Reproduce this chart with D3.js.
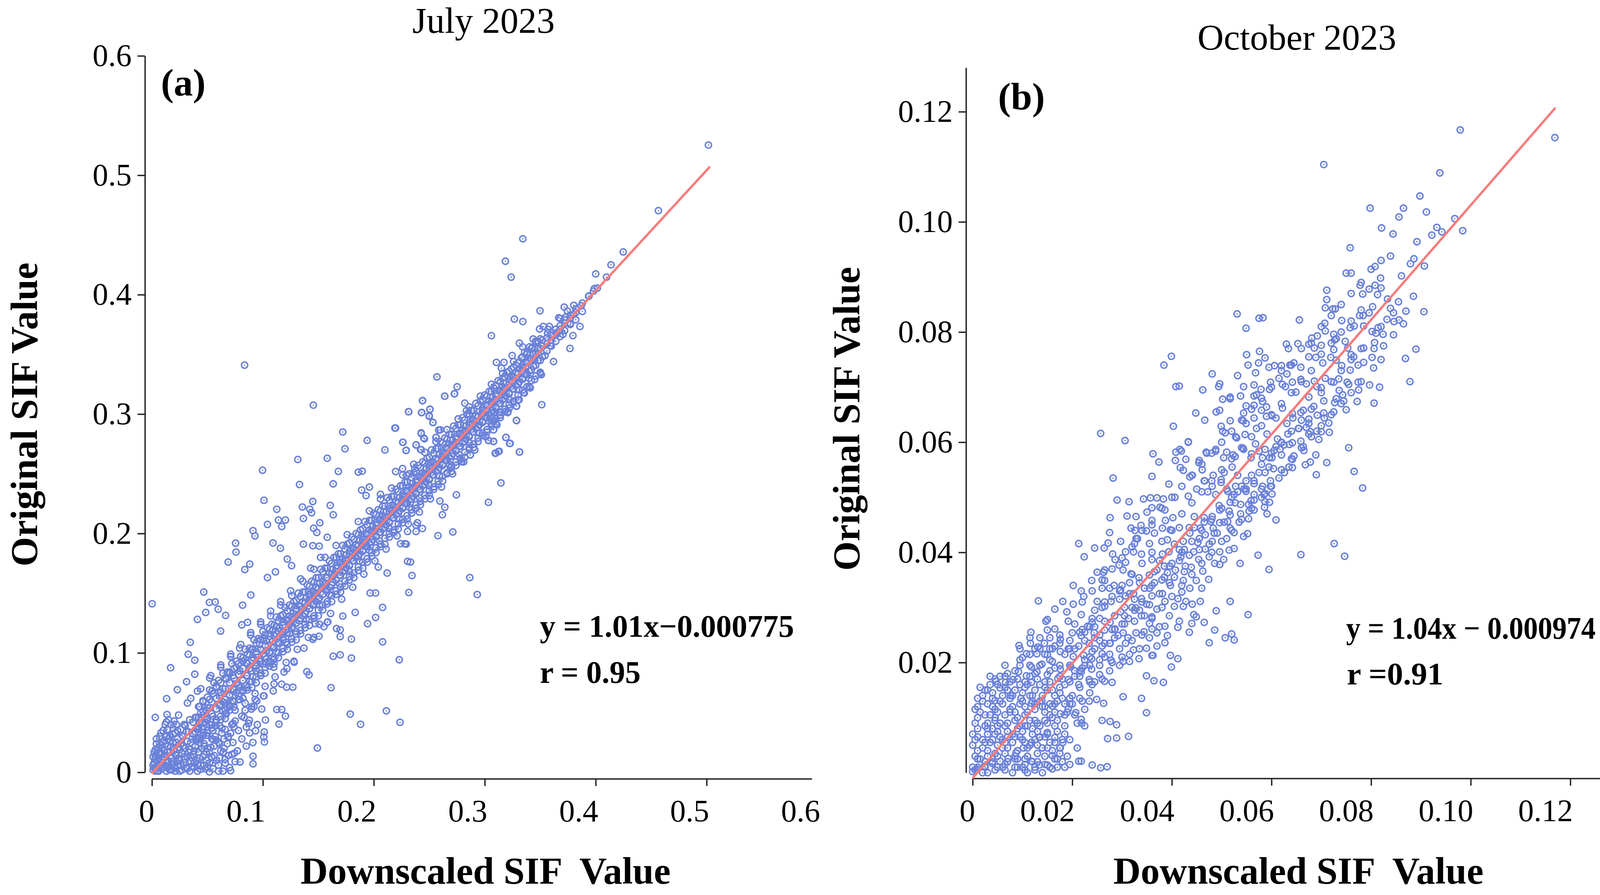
<!DOCTYPE html>
<html>
<head>
<meta charset="utf-8">
<title>Downscaled vs original SIF</title>
<script src="https://cdn.jsdelivr.net/npm/d3@7"></script>
<style>
  html, body { margin: 0; padding: 0; overflow: hidden; background: #fff; }
  svg { display: block; }
  svg text { font-family: "Liberation Serif", "Times New Roman", serif; fill: #000; }
</style>
</head>
<body>
<svg id="chart" width="4157" height="2291"></svg>
<script>
// ---- July 2023 (panel a): [downscaled, original] ----
var julyCorner = [[.001,.002],[.002,.008],[.003,.014],[.004,.004],[.005,.019],[.005,.010],[.006,.001],[.007,.006],[.008,.015],[.008,.023],[.009,.003],[.010,.011],[.011,.018],[.011,.027],[.012,.006],[.013,.001],[.013,.014],[.014,.022],[.015,.009],[.016,.030],[.016,.017],[.017,.003],[.018,.012],[.019,.025],[.019,.007],[.020,.019],[.021,.001],[.021,.033],[.022,.014],[.023,.028],[.023,.005],[.024,.021],[.025,.010],[.026,.036],[.026,.024],[.027,.002],[.027,.016],[.028,.030],[.029,.008],[.030,.020],[.030,.039],[.031,.004],[.032,.026],[.032,.013],[.033,.034],[.034,.001],[.034,.019],[.035,.009],[.036,.028],[.037,.015],[.037,.042],[.038,.004],[.039,.022],[.039,.034],[.040,.010],[.041,.001],[.042,.017],[.043,.029],[.044,.006],[.045,.038],[.046,.013],[.047,.024],[.048,.003],[.049,.017],[.050,.033],[.052,.008],[.053,.021],[.055,.003],[.056,.014],[.058,.027],[.060,.006],[.062,.018],[.064,.001],[.066,.011],[.068,.024],[.070,.004],[.072,.015],[.075,.009],[.004,.024],[.002,.017],[.007,.030],[.010,.035],[.012,.040],[.015,.044],[.006,.012],[.003,.001],[.001,.006],[.009,.016],[.014,.004],[.018,.002],[.022,.009],[.025,.001],[.029,.013],
  [.002,.004],[.003,.011],[.005,.001],[.006,.016],[.007,.009],[.009,.020],[.010,.005],[.011,.013],[.012,.024],[.013,.008],[.014,.017],[.015,.028],[.016,.002],[.017,.021],[.018,.009],[.019,.032],[.020,.004],[.021,.015],[.022,.025],[.023,.035],[.024,.012],[.025,.019],[.026,.006],[.027,.031],[.028,.022],[.029,.040],[.030,.011],[.031,.034],[.032,.003],[.033,.017],[.034,.044],[.035,.025],[.036,.005],[.037,.032],[.038,.018],[.039,.046],[.040,.026],[.041,.007],[.042,.036],[.043,.012],[.044,.050],[.045,.020],[.046,.031],[.047,.006],[.048,.042],[.049,.010],[.010,.025],[.006,.021],[.004,.028],[.008,.033],[.014,.036],[.017,.040],[.020,.043],[.024,.048],[.013,.030],[.016,.026],[.019,.037],[.022,.040],[.001,.013],[.003,.019]];

var julyBand = [[.040,.028],[.040,.046],[.040,.037],[.043,.055],[.043,.025],[.043,.041],[.046,.048],[.046,.036],[.046,.060],[.049,.031],[.049,.052],[.049,.044],[.052,.061],[.052,.040],[.052,.054],[.055,.047],[.055,.066],[.055,.035],[.058,.053],[.058,.072],[.058,.044],[.061,.039],[.061,.064],[.061,.056],[.064,.070],[.064,.051],[.064,.059],[.067,.058],[.067,.078],[.067,.049],[.070,.064],[.070,.055],[.070,.083],[.073,.060],[.073,.081],[.073,.070],[.076,.088],[.076,.067],[.076,.074],[.079,.071],[.079,.061],[.079,.085],[.082,.093],[.082,.077],[.082,.069],[.085,.081],[.085,.092],[.085,.073],[.088,.076],[.088,.098],[.088,.087],[.091,.096],[.091,.080],[.091,.103],[.094,.085],[.094,.101],[.094,.092],[.097,.107],[.097,.093],[.097,.086],[.100,.099],[.100,.091],[.100,.112],[.103,.095],[.103,.110],[.103,.102],[.106,.114],[.106,.100],[.106,.093],[.109,.104],[.109,.119],[.109,.110],[.112,.101],[.112,.116],[.112,.122],[.115,.121],[.115,.108],[.115,.114],[.118,.111],[.118,.126],[.118,.117],[.121,.128],[.121,.119],[.121,.109],[.124,.116],[.124,.131],[.124,.124],[.127,.133],[.127,.122],[.127,.128],[.130,.125],[.130,.137],[.130,.118],[.133,.139],[.133,.127],[.133,.132],[.136,.131],[.136,.143],[.136,.137],[.139,.146],[.139,.135],[.139,.128],[.142,.137],[.142,.149],[.142,.144],[.145,.152],[.145,.140],[.145,.146],[.148,.143],[.148,.155],[.148,.150],[.151,.158],[.151,.146],[.151,.140],[.154,.149],[.154,.160],[.154,.155],[.157,.163],[.157,.152],[.157,.158],[.160,.155],[.160,.167],[.160,.149],[.163,.170],[.163,.159],[.163,.164],[.166,.161],[.166,.173],[.166,.168],[.169,.176],[.169,.165],[.169,.158],[.172,.168],[.172,.179],[.172,.174],[.175,.182],[.175,.171],[.175,.177],[.178,.174],[.178,.185],[.178,.168],[.181,.188],[.181,.177],[.181,.183],[.184,.180],[.184,.191],[.184,.186],[.187,.194],[.187,.183],[.187,.177],[.190,.186],[.190,.197],[.190,.191],[.193,.200],[.193,.189],[.193,.195],[.196,.192],[.196,.203],[.196,.186],[.199,.206],[.199,.195],[.199,.201],[.202,.198],[.202,.209],[.202,.204],[.205,.212],[.205,.201],[.205,.194],[.208,.204],[.208,.215],[.208,.210],[.211,.218],[.211,.207],[.211,.213],[.214,.210],[.214,.221],[.214,.204],[.217,.224],[.217,.213],[.217,.219],[.220,.216],[.220,.227],[.220,.222],[.223,.230],[.223,.219],[.223,.212],[.226,.222],[.226,.233],[.226,.228],[.229,.236],[.229,.225],[.229,.231],[.232,.228],[.232,.239],[.232,.222],[.235,.242],[.235,.231],[.235,.237],[.238,.234],[.238,.245],[.238,.240],[.241,.248],[.241,.237],[.241,.230],[.244,.240],[.244,.251],[.244,.246],[.247,.254],[.247,.243],[.247,.249],[.250,.246],[.250,.257],[.250,.240],[.253,.260],[.253,.249],[.253,.255],[.256,.252],[.256,.263],[.256,.258],[.259,.266],[.259,.255],[.259,.248],[.262,.258],[.262,.269],[.262,.264],[.265,.272],[.265,.261],[.265,.267],[.268,.264],[.268,.275],[.268,.258],[.271,.278],[.271,.267],[.271,.273],[.274,.270],[.274,.281],[.274,.276],[.277,.284],[.277,.273],[.277,.266],[.280,.276],[.280,.287],[.280,.282],[.283,.290],[.283,.279],[.283,.285],[.286,.282],[.286,.293],[.286,.276],[.289,.296],[.289,.285],[.289,.291],[.292,.288],[.292,.299],[.292,.294],[.295,.302],[.295,.291],[.295,.284],[.298,.294],[.298,.305],[.298,.300],[.301,.308],[.301,.297],[.301,.303],[.304,.300],[.304,.311],[.304,.294],[.307,.314],[.307,.303],[.307,.309],[.310,.306],[.310,.317],[.310,.312],[.313,.320],[.313,.309],[.313,.302],[.316,.312],[.316,.323],[.316,.318],[.319,.326],[.319,.315],[.319,.321],[.322,.318],[.322,.329],[.322,.312],[.325,.332],[.325,.321],[.325,.327],[.328,.324],[.328,.335],[.328,.330],[.331,.338],[.331,.327],[.331,.320],[.334,.330],[.334,.341],[.334,.336],[.337,.344],[.337,.333],[.337,.339],[.340,.336],[.340,.347],[.340,.330],[.344,.350],[.344,.340],[.344,.346],[.348,.345],[.348,.355],[.348,.351],[.352,.357],[.352,.348],[.352,.362],[.356,.353],[.356,.364],[.356,.359],[.360,.366],[.360,.357],[.360,.362],[.364,.361],[.364,.371],[.364,.368],[.368,.374],[.368,.365],[.368,.371],[.372,.370],[.372,.379],[.372,.376],[.377,.383],[.377,.375],[.377,.380],[.382,.379],[.382,.388],[.382,.385],[.388,.393],[.388,.386],[.394,.399],[.398,.403]];

var julyBandFill = [[.042,.028],[.042,.037],[.042,.046],[.042,.055],[.046,.031],[.046,.041],[.046,.051],[.046,.059],[.050,.035],[.050,.045],[.050,.054],[.050,.063],[.054,.040],[.054,.049],[.054,.059],[.054,.068],[.058,.044],[.058,.053],[.058,.062],[.058,.071],[.062,.047],[.062,.057],[.062,.067],[.062,.075],[.066,.052],[.066,.061],[.066,.070],[.066,.079],[.070,.056],[.070,.065],[.070,.075],[.070,.084],[.074,.059],[.074,.069],[.074,.079],[.074,.087],[.078,.064],[.078,.073],[.078,.082],[.078,.091],[.082,.068],[.082,.077],[.082,.087],[.082,.096],[.086,.071],[.086,.081],[.086,.091],[.086,.099],[.090,.076],[.090,.085],[.090,.094],[.090,.103],[.094,.080],[.094,.089],[.094,.099],[.094,.108],[.098,.083],[.098,.093],[.098,.103],[.098,.111],[.102,.088],[.102,.097],[.102,.106],[.102,.115],[.106,.092],[.106,.101],[.106,.111],[.106,.120],[.110,.095],[.110,.105],[.110,.115],[.110,.123],[.114,.100],[.114,.109],[.114,.118],[.114,.127],[.118,.104],[.118,.113],[.118,.123],[.118,.132],[.122,.107],[.122,.117],[.122,.127],[.122,.135],[.126,.112],[.126,.121],[.126,.130],[.126,.139],[.130,.116],[.130,.125],[.130,.135],[.130,.144],[.134,.119],[.134,.129],[.134,.139],[.134,.147],[.138,.124],[.138,.133],[.138,.142],[.138,.151],[.142,.128],[.142,.137],[.142,.147],[.142,.156],[.146,.131],[.146,.141],[.146,.151],[.146,.159],[.150,.136],[.150,.145],[.150,.154],[.150,.163],[.154,.140],[.154,.149],[.154,.159],[.154,.168],[.158,.143],[.158,.153],[.158,.163],[.158,.171],[.162,.148],[.162,.157],[.162,.166],[.162,.175],[.166,.152],[.166,.161],[.166,.171],[.166,.180],[.170,.155],[.170,.165],[.170,.175],[.170,.183],[.174,.160],[.174,.169],[.174,.178],[.174,.187],[.178,.164],[.178,.173],[.178,.183],[.178,.192],[.182,.167],[.182,.177],[.182,.187],[.182,.195],[.186,.172],[.186,.181],[.186,.190],[.186,.199],[.190,.176],[.190,.185],[.190,.195],[.190,.204],[.194,.179],[.194,.189],[.194,.199],[.194,.207],[.198,.184],[.198,.193],[.198,.202],[.198,.211],[.202,.188],[.202,.197],[.202,.207],[.202,.216],[.206,.191],[.206,.201],[.206,.211],[.206,.219],[.210,.196],[.210,.205],[.210,.214],[.210,.223],[.214,.200],[.214,.209],[.214,.219],[.214,.228],[.218,.203],[.218,.213],[.218,.223],[.218,.231],[.222,.208],[.222,.217],[.222,.226],[.222,.235],[.226,.212],[.226,.221],[.226,.231],[.226,.240],[.230,.215],[.230,.225],[.230,.235],[.230,.243],[.234,.220],[.234,.229],[.234,.238],[.234,.247],[.238,.224],[.238,.233],[.238,.243],[.238,.252],[.242,.227],[.242,.237],[.242,.247],[.242,.255],[.246,.232],[.246,.241],[.246,.250],[.246,.259],[.250,.236],[.250,.245],[.250,.255],[.250,.264],[.254,.239],[.254,.249],[.254,.259],[.254,.267],[.258,.244],[.258,.253],[.258,.262],[.258,.271],[.262,.248],[.262,.257],[.262,.267],[.262,.276],[.266,.251],[.266,.261],[.266,.271],[.266,.279],[.270,.256],[.270,.265],[.270,.274],[.270,.283],[.274,.260],[.274,.269],[.274,.279],[.274,.288],[.278,.263],[.278,.273],[.278,.283],[.278,.291],[.282,.268],[.282,.277],[.282,.286],[.282,.295],[.286,.272],[.286,.281],[.286,.291],[.286,.300],[.290,.275],[.290,.285],[.290,.295],[.290,.303],[.294,.280],[.294,.289],[.294,.298],[.294,.307],[.298,.284],[.298,.293],[.298,.303],[.298,.312],[.302,.287],[.302,.297],[.302,.307],[.302,.315],[.306,.292],[.306,.301],[.306,.310],[.306,.319],[.310,.296],[.310,.305],[.310,.315],[.310,.324],[.314,.299],[.314,.309],[.314,.319],[.314,.327],[.318,.304],[.318,.313],[.318,.322],[.318,.331],[.322,.308],[.322,.317],[.322,.327],[.322,.336],[.326,.311],[.326,.321],[.326,.331],[.326,.339],[.330,.316],[.330,.325],[.330,.334],[.330,.343],[.334,.320],[.334,.329],[.334,.339],[.334,.348],[.338,.323],[.338,.333],[.338,.343],[.338,.351],[.342,.328],[.342,.337],[.342,.346],[.342,.355],[.346,.332],[.346,.341],[.346,.351],[.346,.360],[.350,.335],[.350,.345],[.350,.355],[.350,.363]];

var julyBandUpper = [[.052,.069],[.056,.075],[.060,.077],[.064,.083],[.068,.084],[.072,.091],[.076,.093],[.080,.097],[.084,.103],[.088,.104],[.092,.111],[.096,.112],[.100,.118],[.104,.121],[.108,.124],[.112,.130],[.116,.131],[.120,.138],[.124,.140],[.128,.143],[.132,.150],[.136,.151],[.140,.157],[.144,.160],[.148,.163],[.152,.170],[.156,.171],[.160,.177],[.164,.180],[.168,.183],[.172,.190],[.176,.191],[.180,.197],[.184,.200],[.188,.203],[.192,.210],[.196,.211],[.200,.217],[.204,.220],[.208,.223],[.212,.230],[.216,.231],[.220,.237],[.224,.240],[.228,.243],[.232,.250],[.236,.251],[.240,.257],[.244,.260],[.248,.263],[.252,.270],[.256,.271],[.260,.277],[.264,.280],[.268,.283],[.272,.290],[.276,.291],[.280,.297],[.284,.300],[.288,.303],[.292,.309],[.296,.311],[.300,.316],[.304,.319],[.308,.322],[.312,.328],[.316,.330],[.320,.335],[.324,.338],[.328,.341],[.333,.347],[.338,.350],[.343,.356],[.348,.361]];

var julyBandLower = [[.054,.037],[.058,.042],[.062,.044],[.066,.049],[.070,.052],[.074,.055],[.078,.061],[.082,.062],[.086,.069],[.090,.071],[.094,.075],[.098,.081],[.102,.083],[.106,.089],[.110,.091],[.114,.096],[.118,.101],[.122,.103],[.126,.109],[.130,.111],[.134,.116],[.138,.121],[.142,.123],[.146,.129],[.150,.131],[.154,.136],[.158,.141],[.162,.143],[.166,.149],[.170,.151],[.174,.156],[.178,.161],[.182,.163],[.186,.169],[.190,.171],[.194,.176],[.198,.181],[.202,.184],[.206,.189],[.210,.191],[.214,.197],[.218,.201],[.222,.204],[.226,.209],[.230,.212],[.234,.217],[.238,.221],[.242,.224],[.246,.229],[.250,.232],[.254,.237],[.258,.241],[.262,.244],[.266,.250],[.270,.252],[.274,.257],[.278,.262],[.282,.264],[.286,.270],[.290,.272],[.294,.277],[.298,.282],[.302,.285],[.306,.290],[.310,.292],[.314,.297],[.318,.302],[.322,.305],[.326,.310],[.330,.312],[.335,.318],[.340,.323],[.345,.329],[.350,.334],
  [.045,.030],[.050,.020],[.054,.028],[.057,.039],[.060,.025],[.063,.033],[.066,.045],[.069,.030],[.072,.040],[.075,.052],[.078,.035],[.081,.047],[.084,.058],[.087,.041],[.090,.055],[.093,.066],[.061,.012],[.065,.020],[.069,.014],[.073,.025],[.077,.018],[.081,.028],[.085,.022],[.088,.033],[.091,.025],[.095,.040],[.052,.016],[.058,.010],[.050,.004],[.055,.008],[.060,.001]];

var julySpread = [[.032,.058],[.036,.012],[.041,.068],[.047,.022],[.052,.079],[.057,.030],[.062,.088],[.066,.036],[.071,.097],[.075,.043],[.079,.104],[.084,.052],[.089,.115],[.093,.061],[.098,.124],[.102,.072],[.107,.131],[.111,.080],[.116,.140],[.121,.092],[.126,.148],[.131,.103],[.136,.160],[.141,.113],[.146,.170],[.151,.124],[.156,.180],[.161,.133],[.166,.190],[.171,.145],[.176,.199],[.181,.155],[.186,.210],[.191,.166],[.196,.219],[.201,.177],[.206,.229],[.211,.187],[.216,.238],[.221,.198],[.226,.249],[.231,.208],[.236,.258],[.241,.218],[.246,.268],[.251,.229],[.256,.277],[.261,.239],[.266,.287],[.271,.250],[.276,.296],[.281,.260],[.286,.306],[.291,.270],[.296,.315],[.301,.281],[.306,.325],[.311,.291],[.316,.334],[.321,.302],[.326,.344],[.331,.312],[.336,.352],[.341,.322],[.346,.361],[.351,.333],[.357,.371],[.362,.344],[.368,.380],
  [.035,.062],[.038,.008],[.044,.070],[.047,.015],[.053,.081],[.056,.022],[.062,.090],[.065,.028],[.071,.099],[.074,.038],[.080,.107],[.083,.046],[.089,.117],[.092,.055],[.098,.126],[.101,.064],[.107,.135],[.110,.074],[.116,.143],[.119,.084],[.125,.152],[.128,.093],[.134,.162],[.137,.104],[.143,.171],[.146,.113],[.152,.180],[.155,.122]];

var julyOutliers = [[.1455,.3075],[.172,.285],[.174,.271],[.194,.278],[.1315,.262],[.158,.263],[.0997,.253],[.133,.241],[.1634,.2416],[.168,.252],[.186,.2514],[.1895,.2522],[.189,.2364],[.193,.2318],[.196,.2389],[.206,.2328],[.210,.270],[.219,.2883],[.226,.2764],[.229,.2695],[.2315,.3019],[.244,.3113],[.243,.3012],[.2506,.304],[.25,.2981],[.2533,.2929],[.264,.315],[.2726,.317],[.2427,.2837],[.2456,.2793],[.238,.2741],[.2427,.2702],[.2584,.2866],[.256,.2804],[.282,.3092],[.2834,.3029],[.308,.3012],[.3146,.3012],[.3206,.3012],[.3287,.3067],[.3287,.2946],[.308,.2935],[.308,.2868],[.3033,.2779],[.308,.2772],[.319,.2804],[.3224,.2754],[.3314,.2683],[.310,.2674],[.313,.2689],[.287,.2658],[.2793,.2601],[.3146,.2424],[.3033,.2261],[.2744,.2324],[.2712,.2013],[.2578,.1982],[.2595,.2272],[.264,.222],[.2618,.2157],[.2865,.1631],[.2932,.1489],[.2304,.2017],[.238,.207],[.238,.2017],[.2438,.2042],[.2393,.209],[.2292,.1911],[.2241,.1915],[.2281,.1915],[.2304,.1767],[.233,.1761],[.2344,.1648],[.2315,.1506],[.212,.1669],[.204,.1719],[.2079,.1381],[.2016,.1297],[.1944,.1245],[.1967,.1502],[.2016,.1502],[.1832,.1339],[.172,.1308],[.1798,.1116],[.1697,.1137],[.1697,.1193],[.1585,.126],[.1664,.1204],[.2079,.1093],[.1634,.0972],[.1697,.0984],[.1798,.0957],[.2229,.0943],[.1614,.0709],[.1787,.0488],[.1881,.0402],[.2113,.0515],[.2236,.0419],[.1491,.0204],[.145,.1114],[.1506,.114],[.1473,.1245],[.158,.1256],[.1396,.0843],[.1416,.0816],[.1214,.0713],[.127,.0713],[.1169,.0738],[.1093,.0682],[.1217,.0868],[.1282,.0922],[.1098,.0943],[.1098,.088],[.1125,.0526],[.117,.0526],[.1203,.0471],[.1145,.0404],[.1023,.0438],[.1012,.0338],[.1008,.0296],[.1014,.0254],[.099,.053],[.1005,.064],[.0945,.0598],[.0911,.0135],[.0911,.0071],[.0794,.0087],[.0709,.0014],[.066,.0077],[.0743,.016],[.0896,.053],[.0851,.0379],[.0878,.0436],[.0934,.0348],[.0732,.0409],[.0687,.0296],[.0631,.037],[.0709,.0327],[.0518,.0004],[.044,.0025],[.054,.013],[.0608,.0238],[.0552,.0275],[.0642,.017],
  [.0002,.1412],[.0467,.151],[.0518,.1423],[.057,.1427],[.0597,.1366],[.0664,.1314],[.0485,.1339],[.041,.1281],[.0619,.1183],[.0345,.1089],[.0327,.0989],[.0386,.0939],[.0168,.0876],[.0312,.0759],[.0386,.0822],[.0229,.0692],[.0132,.0617],[.003,.046],[.0136,.0484],[.013,.0421],[.0687,.1761],[.0754,.1919],[.0758,.1844],[.0837,.1698],[.0882,.1744],[.0911,.2024],[.0929,.198],[.0891,.1485],[.0817,.14],[.081,.1235],[.0862,.1256],[.101,.2278],[.1125,.2203],[.1041,.2076],[.1091,.1921],[.1158,.1877],[.114,.2113],[.1203,.2113],[.117,.2059],[.1041,.1631],[.1113,.1679],[.122,.1786],[.1259,.1731],[.1356,.2222],[.1365,.2126],[.1423,.2203],[.1439,.2174],[.145,.2268],[.1607,.2236],[.1634,.2157],[.158,.1969],[.1365,.1911],[.145,.1898],[.1508,.1894],[.1457,.2044],[.1486,.2009],[.1513,.209],[.0835,.341],
  [.5016,.5253],[.4565,.4704],[.4248,.4358],[.4138,.425],[.4,.4174],[.4098,.4147],[.3343,.4468],[.3186,.428],[.3238,.4147],[.3988,.4051],[.4015,.4055],[.3936,.3986],[.3716,.3896],[.3802,.3911],[.3869,.3907],[.3745,.3863],[.3667,.3807],[.373,.3813],[.3802,.3834],[.3772,.376],[.3498,.3865],[.3267,.3796],[.3343,.3775],[.3858,.3734],[.3795,.3657],[.3768,.355],[.306,.3657],[.3494,.3713],[.3528,.3734],[.3582,.3734],[.3566,.3677],[.3645,.3667],[.3705,.3667],[.3588,.3573],[.3543,.349],[.3436,.3629],[.3312,.3594],[.3341,.3563],[.3404,.3563],[.3247,.349],[.3105,.3433],[.3173,.3433],[.315,.3385],[.3357,.3177],[.3285,.3066],[.3285,.2947],[.3514,.3079],[.2569,.3312],[.2751,.3229],[.2728,.3171],[.2638,.315],[.2438,.3112],[.2313,.3021],[.2432,.3014],[.2506,.3041],[.2499,.2987],[.2533,.2931],[.2196,.2883],[.2263,.2764],[.2292,.2697],[.2382,.2743],[.2421,.2703],[.26,.2868],[.2562,.2805],[.2427,.2843],[.245,.28],[.3034,.278],[.3078,.277],[.3078,.2868],[.3083,.2947],[.3191,.2805],[.3229,.2755],[.3312,.2682],[.3094,.2672],[.3123,.2686],[.287,.266],[.279,.2601],[.269,.2551],[.2196,.2519],[.2259,.2544],[.2369,.2544],[.2297,.2488]];

// ---- October 2023 (panel b) ----
var octUpper = [[.0979,.1167],[.1169,.1153],[.0705,.1104],[.0938,.1089],[.0898,.1047],[.0798,.1025],[.0865,.1025],[.0911,.1018],[.0856,.1009],[.0821,.0989],[.0844,.0978],[.0922,.0976],[.0932,.099],[.0942,.0982],[.0968,.1006],[.0984,.0984],[.0758,.0953],[.0839,.0938],[.0892,.0964],[.0879,.0924],[.0886,.0933],[.0907,.092],[.0861,.0902],[.075,.0907],[.076,.0907],[.08,.0914],[.0808,.0919],[.0819,.0898],[.0778,.0885],[.0796,.0878],[.0808,.0885],[.0783,.0869],[.0813,.0868],[.0711,.0876],[.0711,.0859],[.0708,.0844],[.0728,.0842],[.0723,.0842],[.0741,.0821],[.0803,.0846],[.0833,.086],[.0839,.0843],[.0845,.0835],[.0832,.0823],[.0846,.0819],[.0856,.0822],[.087,.0838],[.0906,.0837],[.0531,.0833],[.0575,.0825],[.0583,.0826],[.0549,.0807],[.0656,.0822],[.0777,.083],[.0784,.083],[.0796,.0835],[.0707,.0816],[.0708,.0802],[.0725,.0796],[.073,.0788],[.0758,.0808],[.0766,.0811],[.0785,.0811],[.0814,.0808],[.0824,.0796],[.081,.0798],[.0802,.0801],[.063,.0778],[.0653,.0779],[.0634,.077],[.0681,.0789],[.0692,.0793],[.0675,.0778],[.0686,.0771],[.07,.0776],[.0725,.0768],[.0727,.0786],[.0748,.0783],[.0753,.0771],[.076,.0759],[.0785,.0771],[.0807,.0781],[.0802,.0754],[.0806,.077],[.089,.0769],[.0869,.0752],[.0878,.071],[.0576,.0765],[.055,.0759],[.0587,.0753],[.0574,.0744],[.0553,.074],[.0568,.0726],[.0532,.0721],[.0481,.0724],[.0595,.0736],[.0606,.0739],[.062,.0739],[.0637,.074],[.0645,.0744],[.0659,.0736],[.0675,.0755],[.0689,.0754],[.0703,.0744],[.0719,.0754],[.073,.0749],[.0741,.0739],[.0758,.0731],[.0774,.074],[.0598,.0709],[.0615,.0716],[.0631,.0724],[.0628,.0701],[.0642,.0709],[.0659,.0714],[.067,.0706],[.0686,.0711],[.07,.0699],[.0708,.0716],[.0725,.0709],[.0736,.0694],[.073,.0679],[.0752,.0709],[.0774,.0709],[.0797,.0704],[.0817,.07],[.0772,.0674],[.0806,.0671],[.075,.0659],[.0705,.0653],[.0462,.0695],[.0496,.0706],[.0494,.0701],[.0502,.0678],[.0517,.0679],[.0538,.0684],[.0565,.0704],[.0579,.0696],[.0565,.0684],[.0582,.0674],[.059,.0664],[.0549,.0666],[.0543,.0639],[.0565,.0644],[.059,.0647],[.0609,.0644],[.0631,.0634],[.0642,.0652],[.0659,.0654],[.0675,.0642],[.0692,.0649],[.067,.0627],[.0678,.0619],[.07,.0619],[.0716,.0618],[.0448,.0653],[.0489,.0655],[.0466,.064],[.0403,.0629],[.0408,.0701],[.0399,.0756],[.0384,.074],[.0415,.0702],[.0499,.0629],[.0507,.0617],[.053,.0608],[.0547,.0614],[.0433,.06],[.0568,.0597],[.0587,.0587],[.0609,.0592],[.062,.0599],[.0642,.0599],[.0659,.0602],[.0664,.0592],[.0755,.059],[.0711,.0563],[.0689,.0577],[.0678,.0564],[.0668,.0559],[.069,.0541],[.0766,.0547],[.0783,.0517],[.0408,.0582],[.0419,.0584],[.0428,.0569],[.0417,.0554],[.0436,.0537],[.0455,.0567],[.0469,.0582],[.0488,.0584],[.051,.0582],[.0527,.0574],[.0543,.0589],[.056,.0579],[.0582,.0572],[.0601,.0572],[.062,.0577],[.0642,.0569],[.0642,.0554],[.0626,.0545],[.0604,.0552],[.0587,.0545],[.0461,.055],[.0483,.054],[.0505,.0545],[.0521,.0555],[.0532,.054],[.0549,.053],[.0565,.0525],[.0582,.052],[.0598,.053],[.0499,.0527],[.0466,.053],[.045,.0515],[.0472,.051],[.0488,.0505],[.051,.0515],[.0532,.051],[.0549,.0515],[.0565,.0505],[.0587,.0507],[.0598,.052],[.0433,.0502],[.0406,.05],[.0527,.049],[.0554,.0487],[.0587,.0492]];

var octMiddle = [[.0416,.0587],[.0433,.0601],[.0407,.0567],[.0423,.0549],[.0441,.054],[.0454,.0563],[.047,.058],[.0488,.0587],[.0504,.0572],[.0523,.0577],[.0544,.0587],[.0559,.0572],[.0575,.0584],[.0596,.0572],[.0617,.0587],[.0636,.0596],[.0465,.053],[.0481,.052],[.0499,.0532],[.0512,.0511],[.0528,.052],[.0549,.0511],[.0565,.053],[.058,.0515],[.0517,.0491],[.0538,.0487],[.0559,.0494],[.0496,.0477],[.0517,.0468],[.0481,.0465],[.0586,.0482],[.0601,.0506],[.0544,.0653],[.0565,.0667],[.058,.0658],[.0601,.0648],[.0622,.0662],[.0643,.0644],[.0664,.0658],[.0549,.0634],[.057,.0625],[.0591,.0615],[.0612,.0606],[.0633,.0615],[.0654,.0625],[.0675,.0634],[.0691,.062],[.0706,.0644],[.0727,.0672],[.0743,.0686],[.0675,.0682],[.0691,.0701],[.0649,.0691],[.0622,.0705],[.0596,.0696],[.057,.0686],[.0544,.0701],[.0517,.0682],[.0496,.0658],[.0517,.0639],[.0502,.062],[.0528,.061],[.0286,.0387],[.0307,.0401],[.0328,.0425],[.0349,.0439],[.036,.0458],[.0381,.0444],[.0386,.0477],[.0402,.0463],[.0318,.0444],[.0297,.042],[.0265,.0368],[.0239,.0349],[.0218,.033],[.0202,.034],[.0181,.0311],[.0165,.0297],[.015,.0278],[.0423,.0302],[.0444,.0287],[.0465,.0273],[.0486,.0259],[.0507,.0245],[.0412,.0264],[.0391,.0249],[.037,.023],[.0349,.0226],[.0334,.0207],
  [.0215,.0185],[.0235,.0195],[.0255,.0205],[.0275,.0215],[.0225,.0255],[.0245,.0245],[.0265,.0235],[.0285,.0245],[.0305,.0285],[.0325,.0295],[.0345,.0285],[.0295,.0315],[.0315,.0325],[.0335,.0345],[.0355,.0335],[.0375,.0325],[.0395,.0345],[.0365,.0365],[.0385,.0375],[.0405,.0355],[.0425,.0365],[.0415,.0405],[.0435,.0395],[.0455,.0405],[.0475,.0415],[.0445,.0445],[.0465,.0455],[.0485,.0435],[.0505,.0455],[.0495,.0485],[.0515,.0475],[.0535,.0455],[.0555,.0475],[.0525,.0505],[.0545,.0515],[.0565,.0495],[.0585,.0505],[.0575,.0545],[.0595,.0555],[.0615,.0535],[.0635,.0555],[.0605,.0585],[.0625,.0595],[.0645,.0575],[.0665,.0585],[.0655,.0625],[.0675,.0615],[.0695,.0605],[.0715,.0635],[.0685,.0665],[.0705,.0675],[.0725,.0655],[.0745,.0675],[.0735,.0715],[.0755,.0705],[.0775,.0695],[.0765,.0755],[.0785,.0745],[.0805,.0735],[.0825,.0775],[.0845,.0795],[.0865,.0815],[.0855,.0855],[.0885,.0865],[.0275,.0185],[.0295,.0195],[.0315,.0215],[.0335,.0225],[.0355,.0245],[.0375,.0265],[.0395,.0285],[.0415,.0275],[.0435,.0255],[.0195,.0225],[.0175,.0235],[.0155,.0225],[.0135,.0245],[.0115,.0245],[.0095,.0225]];

var octBand = [[.022,.013],[.022,.019],[.022,.026],[.022,.031],[.024,.016],[.024,.022],[.024,.028],[.024,.033],[.026,.017],[.026,.023],[.026,.030],[.026,.035],[.028,.020],[.028,.026],[.028,.032],[.028,.037],[.030,.021],[.030,.027],[.030,.034],[.030,.039],[.032,.024],[.032,.030],[.032,.036],[.032,.041],[.034,.025],[.034,.031],[.034,.038],[.034,.044],[.036,.028],[.036,.034],[.036,.040],[.036,.045],[.038,.030],[.038,.035],[.038,.042],[.038,.048],[.040,.032],[.040,.038],[.040,.044],[.040,.050],[.042,.034],[.042,.040],[.042,.047],[.042,.052],[.044,.036],[.044,.042],[.044,.049],[.044,.054],[.046,.038],[.046,.044],[.046,.051],[.046,.056],[.048,.040],[.048,.046],[.048,.053],[.048,.058],[.050,.042],[.050,.048],[.050,.055],[.050,.060],[.052,.044],[.052,.050],[.052,.057],[.052,.062],[.054,.046],[.054,.052],[.054,.059],[.054,.064],[.056,.048],[.056,.054],[.056,.061],[.056,.066],[.058,.050],[.058,.056],[.058,.063],[.058,.068],[.060,.052],[.060,.058],[.060,.065],[.060,.070],[.062,.055],[.062,.060],[.062,.067],[.062,.073],[.064,.057],[.064,.062],[.064,.069],[.064,.074],[.066,.059],[.066,.064],[.066,.071],[.066,.077],[.068,.061],[.068,.066],[.068,.073],[.068,.078],[.070,.063],[.070,.069],[.070,.076],[.070,.081],[.072,.065],[.072,.071],[.072,.078],[.072,.083],[.074,.067],[.074,.073],[.074,.080],[.074,.085],[.076,.069],[.076,.075],[.076,.082],[.076,.087],[.078,.071],[.078,.077],[.078,.084],[.078,.089],[.082,.075],[.082,.081],[.082,.088],[.082,.093]];

var octLower = [[.0257,.0616],[.0306,.0603],[.0282,.0535],[.0213,.0416],[.0245,.0408],[.0224,.0392],[.0272,.0417],[.0132,.0312],[.029,.0495],[.0314,.0492],[.031,.0466],[.0276,.0463],[.0275,.0436],[.0264,.0408],[.0328,.0465],[.0338,.0449],[.0326,.044],[.0331,.0425],[.0325,.0416],[.035,.0473],[.036,.0481],[.0376,.0482],[.037,.0499],[.0383,.0497],[.0357,.0499],[.0343,.0497],[.0362,.0579],[.0374,.0564],[.036,.0538],[.0394,.0524],[.0387,.0458],[.0397,.0441],[.0365,.0435],[.0355,.0416],[.0391,.0423],[.0281,.0397],[.0294,.0377],[.0307,.0382],[.0323,.0401],[.0339,.0397],[.036,.0387],[.0381,.0397],[.0394,.0401],[.0302,.0368],[.0318,.0361],[.0334,.0354],[.0355,.0359],[.037,.0368],[.0391,.0363],[.025,.0364],[.0263,.0364],[.0265,.0349],[.026,.0335],[.0284,.034],[.0297,.0332],[.0307,.0321],[.0323,.0325],[.0339,.0316],[.036,.0321],[.0381,.0325],[.0397,.034],[.0202,.0306],[.0223,.032],[.025,.0311],[.0265,.0302],[.0278,.0311],[.0297,.0292],[.0313,.028],[.0328,.0299],[.0349,.0306],[.037,.0297],[.0386,.0311],[.036,.0283],[.0339,.0285],[.0355,.0271],[.0189,.0292],[.0192,.0275],[.0218,.0287],[.024,.0273],[.0255,.028],[.0276,.0273],[.0286,.0261],[.0265,.0259],[.0244,.0254],[.0231,.0266],[.0302,.0254],[.0312,.0245],[.0328,.0254],[.0344,.0256],[.036,.0261],[.037,.0254],[.0386,.0266],[.0147,.0275],[.0117,.0255],[.015,.0259],[.0165,.0261],[.0176,.0242],[.02,.0254],[.0218,.0249],[.0213,.023],[.0234,.0235],[.0255,.024],[.0276,.0235],[.0292,.0249],[.0307,.0235],[.0323,.0223],[.0386,.0236],[.0093,.0231],[.0116,.0235],[.0131,.0228],[.0144,.0235],[.016,.0225],[.015,.0214],[.0129,.0216],[.0108,.0216],[.0176,.022],[.0192,.0225],[.0202,.0211],[.0223,.0213],[.0239,.0207],[.026,.0216],[.0278,.0204],[.0302,.0202],[.0315,.0202],[.036,.0213],[.0397,.0213],[.0412,.0207],[.01,.0209],[.0118,.0192],[.0139,.0197],[.016,.0202],[.0176,.0188],[.0197,.0192],[.0218,.0183],[.0239,.0188],[.0255,.0178],[.0265,.0166],[.0234,.0169],[.0213,.016],[.0192,.0169],[.0171,.0171],[.015,.0178],[.0129,.0183],[.0108,.0176],[.0092,.0183],[.0081,.0169],[.0118,.0164],[.028,.0164],[.0302,.0138],[.0339,.0135],[.0349,.0109],[.0349,.0176],[.0364,.0167],[.0383,.0164],[.0362,.0213],[.0399,.0192],[.0249,.0133],[.0263,.0126],[.0234,.013],[.0218,.0097],[.0219,.009],[.0207,.0109],[.0192,.0116],[.0176,.0107],[.016,.0121],[.0139,.0131],[.0118,.0126],[.0097,.0135],[.0076,.014],[.0055,.0154],[.0047,.0166],[.0066,.0164],[.0045,.0131],[.026,.0095],[.0276,.0093],[.0289,.0087],[.0271,.0062],[.0289,.0063],[.0313,.0066],[.0213,.0021],[.0218,.0021],[.024,.0014],[.0257,.0009],[.027,.0011],[.016,.0031],[.015,.0014],[.0134,.0014],[.0118,.0021],[.0105,.0005],[.016,.0007],[.0181,.0055],[.0176,.0045],[.0165,.0064],[.015,.0073],[.0134,.0064],[.0118,.0055],[.0102,.0045],[.0087,.0036],[.0071,.0026],[.0055,.0021],[.0039,.0017],[.0024,.0012],[.0008,.0007],[.0,.0002],
  [.0517,.0311],[.0553,.0287],[.0489,.0294],[.0449,.0283],[.044,.0271],[.0457,.0311],[.0441,.0306],[.052,.0252],[.0525,.0241],[.0475,.0236],[.0726,.0416],[.0659,.0396],[.0747,.0393],[.0595,.0369],[.0573,.0395],[.0537,.038],[.0515,.0404],[.0525,.0407],[.0544,.0429],[.0552,.0434],[.0525,.0436],[.0486,.038],[.0496,.0378],[.0475,.0392],[.0462,.0366],[.0474,.0351],[.0418,.0392],[.0427,.0375],[.0423,.0349],[.042,.0328],[.0412,.0316],[.0405,.0302],[.0407,.0368],[.0444,.0401],[.0454,.0387],[.0439,.0373],[.0452,.0418],[.0467,.0432],[.0483,.0444],[.0496,.0454],[.0512,.0456],[.0538,.047],[.0554,.0461],[.0609,.0459],[.0591,.047],[.0565,.0477],[.0596,.0491],[.0465,.0463],[.0478,.0456],[.0491,.0435],[.051,.0425],[.0517,.0444],[.0481,.042],[.0467,.0406],[.0496,.0401],[.0504,.0387],[.0457,.0444],[.0436,.0435],[.0423,.042],[.0449,.0349],[.046,.0335],[.0436,.0335],[.0428,.0311]];

var octCorner = [[.000,.001],[.002,.000],[.004,.002],[.006,.001],[.008,.000],[.010,.001],[.012,.002],[.014,.000],[.017,.001],[.001,.004],[.003,.003],[.005,.005],[.009,.004],[.011,.003],[.013,.005],[.016,.004],[.019,.003],[.000,.007],[.002,.006],[.004,.008],[.006,.006],[.008,.007],[.010,.006],[.012,.008],[.015,.007],[.018,.006],[.001,.010],[.003,.009],[.005,.011],[.007,.009],[.009,.010],[.011,.011],[.013,.009],[.016,.010],[.002,.013],[.004,.012],[.006,.014],[.008,.012],[.010,.013],[.012,.014],[.014,.012],[.017,.013],[.005,.016],[.007,.015],[.009,.017],[.011,.016],[.013,.017],[.015,.015],[.019,.011],[.021,.009],[.020,.014],[.018,.017],[.003,.015],[.001,.012],[.007,.018],[.0015,.0025],[.0035,.0055],[.0065,.0035],[.0085,.0025],[.0105,.0085],[.0125,.0115],[.0075,.0115],[.0045,.0095],[.0025,.0085],[.0145,.0095],[.0165,.0125],[.0185,.0085],[.0195,.0135],[.0225,.0115],[.0235,.0165],[.0205,.0185],[.0175,.0195],[.0155,.0185],[.0115,.0195],[.0135,.0225],[.0095,.0205],[.0065,.0195],[.0035,.0175],[.0015,.0155],[.0055,.0065],
  [.001,.001],[.003,.000],[.005,.001],[.007,.002],[.009,.001],[.011,.000],[.013,.002],[.0155,.001],[.018,.002],[.0005,.003],[.0025,.002],[.0045,.0035],[.0065,.0005],[.0085,.003],[.0105,.0025],[.0125,.0005],[.0145,.003],[.0175,.0035],[.0195,.0015],
  [.000,.005],[.002,.0045],[.004,.006],[.006,.0045],[.008,.0055],[.0095,.0065],[.0115,.005],[.0135,.0065],[.0155,.0055],[.0175,.0045],[.0195,.006],[.001,.0065],[.003,.007],[.005,.0075],[.007,.0065],[.010,.0075],[.012,.007],[.014,.0045],[.017,.0075],[.021,.0045],
  [.0005,.009],[.0025,.0085],[.0045,.010],[.0065,.0085],[.0085,.0095],[.0105,.0105],[.0125,.0095],[.0145,.011],[.0165,.0085],[.0185,.0105],[.0015,.011],[.0035,.0105],[.0055,.009],[.0075,.011],[.0095,.0085],[.0115,.0095],[.0135,.0085],[.0155,.0105],[.0205,.0105],[.0225,.0085],
  [.001,.0135],[.003,.0125],[.0055,.013],[.0075,.0135],[.0095,.0125],[.0115,.014],[.0135,.013],[.0155,.0125],[.0175,.0145],[.0195,.0125],[.0215,.0135],[.004,.0145],[.0065,.0155],[.0085,.015],[.0105,.0155],[.0125,.015],[.0145,.0155],[.0165,.014],[.0235,.0145],[.0025,.015],
  [.0045,.017],[.0065,.0175],[.0085,.0185],[.0105,.0165],[.0125,.018],[.0145,.0165],[.0165,.019],[.0185,.016],[.0205,.0175],[.0225,.0195],[.0245,.0165],[.0095,.0195],[.0135,.0195],[.0175,.0175],[.0195,.0195],[.0215,.0155],[.0155,.0205],[.0115,.0215],[.0235,.021],[.0255,.0195],
  [.0125,.0225],[.0145,.0215],[.0165,.023],[.0185,.0215],[.0205,.0225],[.0225,.024],[.0245,.0225],[.0265,.021],[.0175,.025],[.0195,.024],[.0215,.0255],[.0235,.0265],[.0255,.025],[.0275,.0235],[.0155,.0245],[.0285,.026],[.0225,.0205],[.0265,.0275],[.0295,.0225],[.0205,.027],
  [.0245,.0295],[.0265,.031],[.0285,.0285],[.0305,.03],[.0325,.0315],[.0295,.033],[.0275,.0335],[.0315,.0345],[.0335,.0295],[.0355,.0305],[.0345,.0335],[.0365,.0345],[.0305,.027],[.0325,.0275],[.0245,.0265],[.0385,.0355],[.0375,.0385],[.0395,.0375],[.0415,.0385],[.0405,.0415],[.0425,.0405],[.0435,.0445],[.0455,.0425],[.0415,.0445],[.0445,.0465],
  [.0005,.0005],[.0025,.001],[.0045,.0005],[.0065,.0015],[.0085,.001],[.0105,.0015],[.0125,.001],[.0145,.0015],[.0165,.0025],[.0185,.001],[.001,.0025],[.003,.004],[.005,.003],[.007,.0045],[.009,.0025],[.011,.0045],[.013,.0035],[.015,.0045],[.017,.0025],[.0005,.006],[.0025,.0055],[.0045,.007],[.0065,.0055],[.0085,.0065],[.0105,.0055],[.0125,.006],[.0145,.0065],[.0165,.0055],[.0185,.007],[.001,.008],[.003,.008],[.005,.0085],[.007,.0075],[.009,.008],[.011,.0085],[.013,.0075],[.015,.009],[.017,.0095],[.0005,.0115],[.0025,.0105],[.0045,.0115],[.0065,.0105],[.0085,.011],[.0105,.012],[.0125,.0125],[.0145,.012],[.0165,.011],[.0185,.0125],[.002,.014],[.004,.0135],[.006,.0125],[.008,.014],[.010,.0145],[.012,.013],[.014,.014],[.016,.015],[.018,.0135],[.020,.0125],[.0035,.016],[.0055,.0175],[.0075,.0165],[.0095,.016],[.0115,.0175],[.0135,.016],[.0155,.0165],[.0175,.0155],[.0195,.0165],[.0215,.0175]];

// regression lines: [slope, intercept, xmax]
var julyFit = [1.01, -0.000775, 0.503];
var octFit = [1.04, -0.000974, 0.117];

var julyTicksX = [0, 0.1, 0.2, 0.3, 0.4, 0.5, 0.6];
var julyLabelsX = ["0", "0.1", "0.2", "0.3", "0.4", "0.5", "0.6"];
var julyTicksY = [0, 0.1, 0.2, 0.3, 0.4, 0.5, 0.6];
var julyLabelsY = ["0", "0.1", "0.2", "0.3", "0.4", "0.5", "0.6"];
var octTicksX = [0, 0.02, 0.04, 0.06, 0.08, 0.10, 0.12];
var octLabelsX = ["0", "0.02", "0.04", "0.06", "0.08", "0.10", "0.12"];
var octTicksY = [0.02, 0.04, 0.06, 0.08, 0.10, 0.12];
var octLabelsY = ["0.02", "0.04", "0.06", "0.08", "0.10", "0.12"];

var pointColor = "#6b82d9";
var lineColor = "#f87c7c";
var svg = d3.select("#chart");
svg.append("rect").attr("width", 4157).attr("height", 2291).attr("fill", "#fff");

// squeeze a text horizontally so it spans the given width
function fitWidth(sel, width) {
    var len = sel.node().getComputedTextLength();
    var x = +sel.attr("x"), y = +sel.attr("y");
    sel.attr("x", 0).attr("y", 0)
        .attr("transform", "translate(" + x + "," + y + ") scale(" + (width / len) + ",1)");
}

function drawPanel(p) {
    var x = d3.scaleLinear().domain(p.xDomain).range(p.xRange);
    var y = d3.scaleLinear().domain(p.yDomain).range(p.yRange);
    var g = svg.append("g");

    // x axis (labels sit just left of their ticks, as in the original)
    var xAxis = g.append("g")
        .attr("transform", "translate(0," + p.xAxisY + ")")
        .call(d3.axisBottom(x).tickValues(p.xTicks)
            .tickFormat(function(d, i) { return p.xLabels[i]; })
            .tickSize(18).tickSizeOuter(0).tickPadding(34));
    xAxis.attr("font-size", 80).attr("font-family", null);
    xAxis.select(".domain").attr("d", "M" + x(p.xDomain[0]) + ",0H" + x(p.xLineEnd));
    xAxis.selectAll(".tick text").attr("text-anchor", "end").attr("dx", 6);
    xAxis.selectAll(".tick").filter(function(d) { return d > p.xLineEnd; }).select("line").remove();

    // y axis
    var yAxis = g.append("g")
        .attr("transform", "translate(" + p.yAxisX + ",0)")
        .call(d3.axisLeft(y).tickValues(p.yTicks)
            .tickFormat(function(d, i) { return p.yLabels[i]; })
            .tickSize(19).tickSizeOuter(0).tickPadding(15));
    yAxis.attr("font-size", 80).attr("font-family", null);

    g.selectAll(".domain, .tick line").attr("stroke", "#222").attr("stroke-width", 3.5);

    // points: open rings with a small centre dot
    var pts = g.append("g");
    pts.selectAll("circle.ring")
        .data(p.points)
        .enter().append("circle")
        .attr("class", "ring")
        .attr("cx", function(d) { return x(d[0]); })
        .attr("cy", function(d) { return y(d[1]); })
        .attr("r", 8)
        .attr("fill", "none")
        .attr("stroke", pointColor)
        .attr("stroke-width", 3.8);
    pts.selectAll("circle.dot")
        .data(p.points)
        .enter().append("circle")
        .attr("class", "dot")
        .attr("cx", function(d) { return x(d[0]); })
        .attr("cy", function(d) { return y(d[1]); })
        .attr("r", 1.9)
        .attr("fill", pointColor);

    // fitted line
    var f = p.fit;
    g.append("line")
        .attr("x1", x(0)).attr("y1", y(f[1]))
        .attr("x2", x(f[2])).attr("y2", y(f[0] * f[2] + f[1]))
        .attr("stroke", lineColor).attr("stroke-width", 6);

    // texts
    g.append("text").attr("x", p.title[1]).attr("y", p.title[2])
        .attr("text-anchor", "middle").attr("font-size", 93).text(p.title[0]);
    g.append("text").attr("x", p.tag[1]).attr("y", p.tag[2])
        .attr("font-size", 98).attr("font-weight", "bold").text(p.tag[0]);
    g.append("text").attr("x", p.xTitle[0]).attr("y", p.xTitle[1])
        .attr("text-anchor", "middle").attr("font-size", 97).attr("font-weight", "bold")
        .style("white-space", "pre").text("Downscaled SIF  Value");
    g.append("text")
        .attr("transform", "translate(" + p.yTitle[0] + "," + p.yTitle[1] + ") rotate(-90)")
        .attr("text-anchor", "middle").attr("font-size", 97).attr("font-weight", "bold")
        .text("Original SIF Value");
    var eq = g.append("text").attr("x", p.eq[1]).attr("y", p.eq[2])
        .attr("font-size", 80).attr("font-weight", "bold").text(p.eq[0]);
    fitWidth(eq, p.eq[3]);
    var rt = g.append("text").attr("x", p.r[1]).attr("y", p.r[2])
        .attr("font-size", 80).attr("font-weight", "bold").text(p.r[0]);
    fitWidth(rt, p.r[3]);
}

drawPanel({
    xDomain: [0, 0.6], xRange: [389, 2093],
    yDomain: [0, 0.6], yRange: [1977, 143],
    xAxisY: 1994, yAxisX: 371, xLineEnd: 0.595,
    xTicks: julyTicksX, xLabels: julyLabelsX,
    yTicks: julyTicksY, yLabels: julyLabelsY,
    points: julyCorner.concat(julyBandLower, julyBandFill, julyBand, julyBandUpper, julySpread, julyOutliers),
    fit: julyFit,
    title: ["July 2023", 1238, 84],
    tag: ["(a)", 412, 244],
    xTitle: [1243, 2262],
    yTitle: [95, 1061],
    eq: ["y = 1.01x\u22120.000775", 1382, 1630, 651],
    r: ["r = 0.95", 1382, 1748, 258]
});

drawPanel({
    xDomain: [0, 0.1305], xRange: [2490, 2490 + 0.1305 * 12750],
    yDomain: [0, 0.128], yRange: [1978, 1978 - 0.128 * 14100],
    xAxisY: 1993, yAxisX: 2473, xLineEnd: 0.1305,
    xTicks: octTicksX, xLabels: octLabelsX,
    yTicks: octTicksY, yLabels: octLabelsY,
    points: octCorner.concat(octLower, octBand, octMiddle, octUpper),
    fit: octFit,
    title: ["October 2023", 3320, 127],
    tag: ["(b)", 2555, 280],
    xTitle: [3324, 2262],
    yTitle: [2200, 1072],
    eq: ["y = 1.04x \u2212 0.000974", 3446, 1635, 639],
    r: ["r =0.91", 3448, 1752, 247]
});
</script>
</body>
</html>
